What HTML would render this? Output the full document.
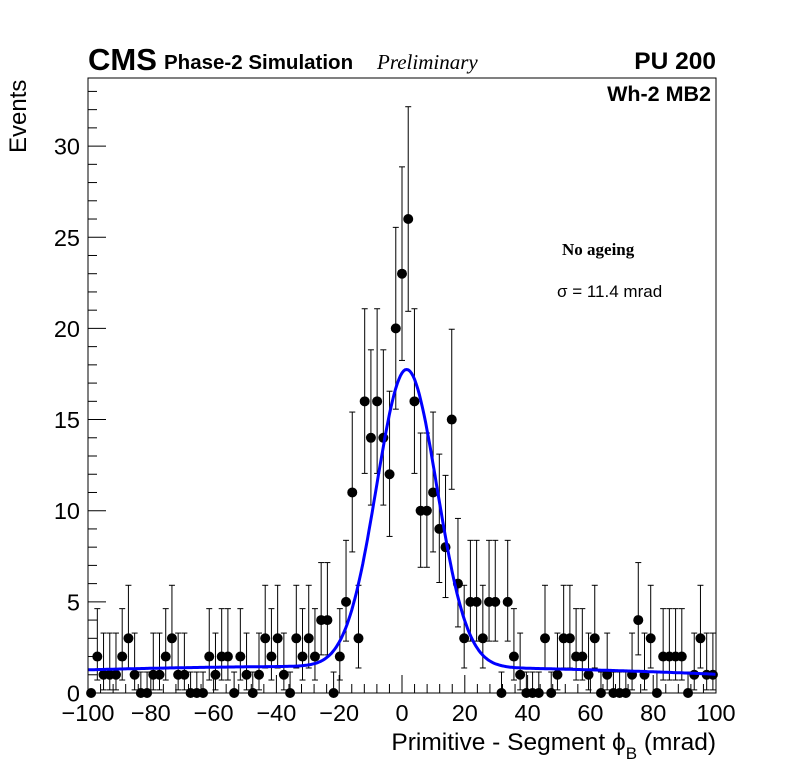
<!DOCTYPE html>
<html><head><meta charset="utf-8"><style>
body{margin:0;background:#fff;}
svg{display:block;font-family:"Liberation Sans",sans-serif;}
</style></head><body>
<svg id="chart" width="796" height="772" viewBox="0 0 796 772">
<rect x="0" y="0" width="796" height="772" fill="#fff"/>
<g id="ticks"></g>
<g id="marks"></g>
<path id="fit" fill="none" stroke="#0000ff" stroke-width="3"/>
<rect x="88" y="78" width="628" height="615" fill="none" stroke="#000" stroke-width="1"/>
<text x="88" y="70" font-size="31" font-weight="bold">CMS</text>
<text x="164" y="69" font-size="20.5" font-weight="bold">Phase-2 Simulation</text>
<text x="377" y="69" font-size="21" font-style="italic" font-family="Liberation Serif,serif">Preliminary</text>
<text x="716" y="69" font-size="24.5" font-weight="bold" text-anchor="end">PU 200</text>
<text x="711" y="101" font-size="21.5" font-weight="bold" text-anchor="end">Wh-2 MB2</text>
<text x="562" y="255" font-size="17" font-weight="bold" font-family="Liberation Serif,serif">No ageing</text>
<text x="557" y="297" font-size="17">σ = 11.4 mrad</text>
<text transform="translate(26,153) rotate(-90)" font-size="24">Events</text>
<text x="716" y="750" font-size="24.5" text-anchor="end">Primitive - Segment ϕ<tspan font-size="17" dy="9">B</tspan><tspan dy="-9"> (mrad)</tspan></text>
</svg>
<script>
const counts=[0,2,1,1,1,2,3,1,0,0,1,1,2,3,1,1,0,0,0,2,1,2,2,0,2,1,0,1,3,2,3,1,0,3,2,3,2,4,4,0,2,5,11,3,16,14,16,14,12,20,23,26,16,10,10,11,9,8,15,6,3,5,5,3,5,5,0,5,2,1,0,0,0,3,0,1,3,3,2,2,1,3,0,1,0,0,0,1,4,1,3,0,2,2,2,2,0,1,3,1,1];
const xTicks=[-100,-80,-60,-40,-20,0,20,40,60,80,100];
const xTickLabels=["\u2212100","\u221280","\u221260","\u221240","\u221220","0","20","40","60","80","100"];
const yTicks=[0,5,10,15,20,25,30];
const fitGauss=[16.3,1.5,9.6];
const fitBkg=[1.45,-0.0012,-0.00003];
const X0=88,X1=716,Y0=693,PY=18.23;
const sx=v=>X0+(v+100)/200*(X1-X0);
const sy=v=>Y0-v*PY;
const NS="http://www.w3.org/2000/svg";
function mk(tag,attrs,parent){const e=document.createElementNS(NS,tag);for(const k in attrs)e.setAttribute(k,attrs[k]);parent.appendChild(e);return e;}
const tg=document.getElementById('ticks');
for(let v=-100;v<=100;v+=4){const major=(v%20===0);
 const t=mk('line',{x1:sx(v),x2:sx(v),y1:Y0,y2:Y0-(major?18:9),stroke:'#000','stroke-width':1},tg);
 
 }
xTicks.forEach((v,i)=>{const t=mk('text',{x:sx(v),y:721,'font-size':23.5,'text-anchor':'middle'},tg);t.textContent=xTickLabels[i];
 
 });
for(let v=0;v<=33;v+=1){const major=(v%5===0);
 const t=mk('line',{x1:X0,x2:X0+(major?18:9),y1:sy(v),y2:sy(v),stroke:'#000','stroke-width':1},tg);
 
 }
yTicks.forEach(v=>{const t=mk('text',{x:80,y:sy(v)+8.5,'font-size':23.5,'text-anchor':'end'},tg);t.textContent=v;
 
 });
const mg=document.getElementById('marks');
const n=counts.length,w=200/n;
counts.forEach((c,i)=>{const xv=-100+w*(i+0.5);const px=sx(xv);
 let lo,hi;
 if(c===0){lo=0;hi=1.15;}else{lo=c*Math.pow(1-1/(9*c)-1/(3*Math.sqrt(c)),3);const m=c+1;hi=m*Math.pow(1-1/(9*m)+1/(3*Math.sqrt(m)),3);}
 const g=mk('g',{},mg);
 
 
 if(c>0||i>0){mk('line',{x1:px,x2:px,y1:sy(lo),y2:sy(hi),stroke:'#000','stroke-width':1},g);
 mk('line',{x1:px-3,x2:px+3,y1:sy(hi),y2:sy(hi),stroke:'#000','stroke-width':1},g);
 if(c>0)mk('line',{x1:px-3,x2:px+3,y1:sy(lo),y2:sy(lo),stroke:'#000','stroke-width':1},g);}
 mk('circle',{cx:px,cy:sy(c),r:5,fill:'#000'},g);});
let d='';
for(let x=-100;x<=100;x+=0.5){const y=fitGauss[0]*Math.exp(-0.5*Math.pow((x-fitGauss[1])/fitGauss[2],2))+fitBkg[0]+fitBkg[1]*x+fitBkg[2]*x*x;
 d+=(d?'L':'M')+sx(x).toFixed(1)+','+sy(y).toFixed(1);}
document.getElementById('fit').setAttribute('d',d);
</script>
</body></html>
